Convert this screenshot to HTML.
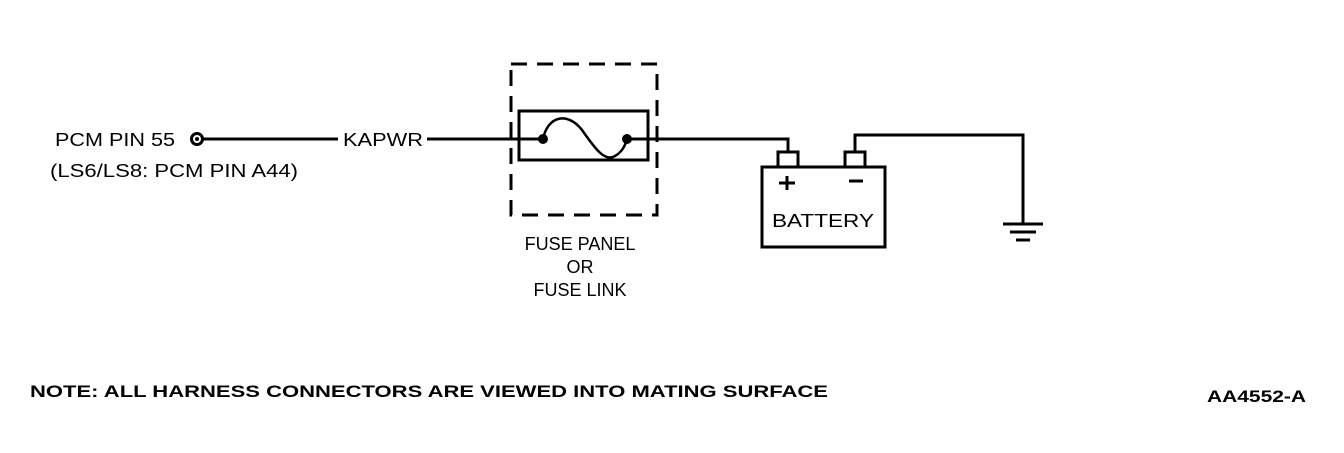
<!DOCTYPE html>
<html><head><style>
body{margin:0;background:#fff;}
svg text{font-family:"Liberation Sans",Arial,sans-serif;fill:#000;}
</style></head><body>
<svg width="1344" height="448" viewBox="0 0 1344 448" xmlns="http://www.w3.org/2000/svg">
<g font-size="18" lengthAdjust="spacingAndGlyphs">
<text x="55" y="146" textLength="120" lengthAdjust="spacingAndGlyphs">PCM PIN 55</text>
<text x="50" y="177" textLength="248" lengthAdjust="spacingAndGlyphs">(LS6/LS8: PCM PIN A44)</text>
<text x="343" y="146" textLength="80" lengthAdjust="spacingAndGlyphs">KAPWR</text>
<text x="580" y="250" text-anchor="middle">FUSE PANEL</text>
<text x="580" y="273" text-anchor="middle">OR</text>
<text x="580" y="296" text-anchor="middle">FUSE LINK</text>
<text x="772" y="227" textLength="102" lengthAdjust="spacingAndGlyphs">BATTERY</text>
</g>
<g font-size="17" font-weight="bold">
<text x="30" y="397" textLength="798" lengthAdjust="spacingAndGlyphs">NOTE:  ALL HARNESS CONNECTORS ARE VIEWED INTO MATING SURFACE</text>
<text x="1207" y="402" textLength="99" lengthAdjust="spacingAndGlyphs">AA4552-A</text>
</g>
<g stroke="#000" fill="none" stroke-width="3">
<circle cx="197" cy="139" r="5.5"/>
<line x1="203" y1="139" x2="338" y2="139"/>
<line x1="427" y1="139" x2="540" y2="139"/>
<rect x="511" y="64" width="146" height="151" stroke-dasharray="16,10"/>
<rect x="519" y="111" width="129" height="49"/>
<path d="M543 139 C548 115 568 112 582 130 C596 150 605 162 615 156 C622 152 625 146 627 139" stroke-width="2.5"/>
<polyline points="627,139 788,139 788,152"/>
<rect x="762" y="167" width="123" height="80"/>
<rect x="778" y="152" width="20" height="15"/>
<rect x="845" y="152" width="20" height="15"/>
<polyline points="855,152 855,135 1023,135 1023,224"/>
<line x1="1003" y1="224" x2="1043" y2="224"/>
<line x1="1010" y1="232" x2="1036" y2="232"/>
<line x1="1016" y1="240" x2="1030" y2="240"/>
<line x1="779" y1="183" x2="795" y2="183"/>
<line x1="787" y1="176" x2="787" y2="190"/>
<line x1="849" y1="181" x2="863" y2="181"/>
</g>
<circle cx="197" cy="139" r="2" fill="#000"/>
<circle cx="543" cy="139" r="5" fill="#000"/>
<circle cx="627" cy="139" r="5" fill="#000"/>
</svg>
</body></html>
